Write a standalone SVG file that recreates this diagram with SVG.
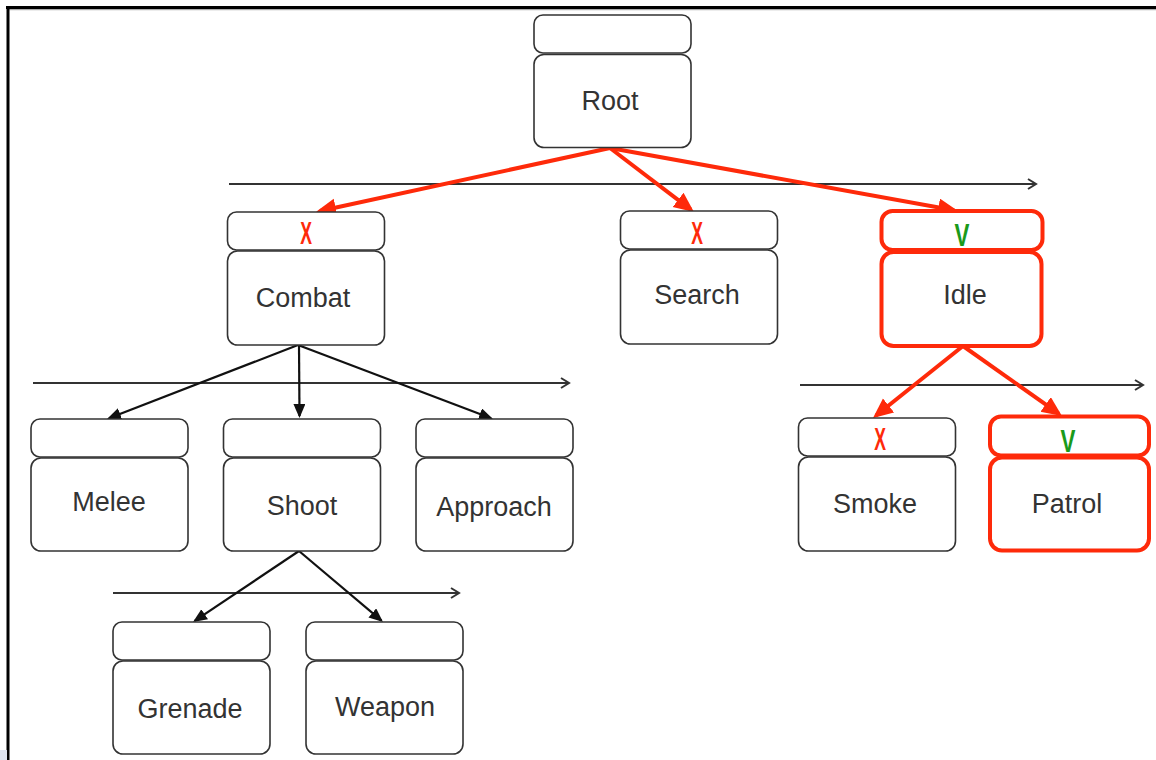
<svg xmlns="http://www.w3.org/2000/svg" width="1156" height="760" viewBox="0 0 1156 760">
<style>
.hd{fill:#fff;stroke:#333;stroke-width:1.6}
.bd{fill:#fff;stroke:#333;stroke-width:1.6}
.act{stroke:#fe2a0a;stroke-width:4}
.lbl{font-family:"Liberation Sans",Arial,sans-serif;font-size:27px;fill:#333;text-anchor:middle}
.mk{font-family:"Liberation Sans",Arial,sans-serif;font-size:32px;font-weight:bold;text-anchor:middle}
.tl{stroke:#333;stroke-width:2;fill:none}
.red{stroke:#fe2a0a;stroke-width:4;fill:none}
.blk{stroke:#111;stroke-width:2.2;fill:none}
</style>
<defs>
<marker id="ar" markerUnits="userSpaceOnUse" markerWidth="22" markerHeight="20" refX="16" refY="9" orient="auto"><path d="M0,0 L20,9 L0,18 Z" fill="#fe2a0a"/></marker>
<marker id="ab" markerUnits="userSpaceOnUse" markerWidth="16" markerHeight="14" refX="12" refY="6" orient="auto"><path d="M0,0 L14,6 L0,12 Z" fill="#111"/></marker>
<marker id="ao" markerUnits="userSpaceOnUse" markerWidth="12" markerHeight="14" refX="9" refY="6" orient="auto"><path d="M1,1 L9,6 L1,11" fill="none" stroke="#333" stroke-width="2"/></marker>
</defs>
<rect width="1156" height="760" fill="#fff"/>
<g id="frame">
<line x1="6" y1="7.5" x2="1156" y2="7.5" stroke="#000" stroke-width="3"/>
<line x1="8" y1="9.7" x2="1156" y2="9.7" stroke="#999" stroke-width="1"/>
<line x1="8" y1="6" x2="8" y2="760" stroke="#000" stroke-width="3"/>
<rect x="0" y="750" width="7" height="10" fill="#dde3ee"/>
</g>
<g id="connectors">
<line class="tl" x1="229" y1="184" x2="1036" y2="184" marker-end="url(#ao)"/>
<line class="tl" x1="33" y1="383" x2="569" y2="383" marker-end="url(#ao)"/>
<line class="tl" x1="800" y1="385" x2="1143" y2="385" marker-end="url(#ao)"/>
<line class="tl" x1="113" y1="593" x2="459" y2="593" marker-end="url(#ao)"/>
<line class="red" x1="610" y1="148" x2="320" y2="211" marker-end="url(#ar)"/>
<line class="red" x1="610" y1="148" x2="690.8" y2="209.6" marker-end="url(#ar)"/>
<line class="red" x1="610" y1="148" x2="954.1" y2="210.3" marker-end="url(#ar)"/>
<line class="red" x1="963" y1="346" x2="876.1" y2="415.5" marker-end="url(#ar)"/>
<line class="red" x1="963" y1="346" x2="1058.7" y2="413.7" marker-end="url(#ar)"/>
<line class="blk" x1="298" y1="345" x2="108.9" y2="418.3" marker-end="url(#ab)"/>
<line class="blk" x1="299" y1="345" x2="299.5" y2="416" marker-end="url(#ab)"/>
<line class="blk" x1="298" y1="345" x2="491.1" y2="418.3" marker-end="url(#ab)"/>
<line class="blk" x1="299" y1="551" x2="194.7" y2="620.9" marker-end="url(#ab)"/>
<line class="blk" x1="299" y1="551" x2="381.5" y2="620.7" marker-end="url(#ab)"/>
</g>
<g id="root">
<rect class="hd" x="534" y="15" width="157" height="38" rx="9"/>
<rect class="bd" x="534" y="54.5" width="157" height="93" rx="10"/>
<text class="lbl" x="610" y="110">Root</text>
</g>
<g id="combat">
<rect class="hd" x="227.5" y="212" width="157" height="38" rx="9"/>
<rect class="bd" x="227.5" y="251" width="157" height="94" rx="10"/>
<text class="lbl" x="303" y="307">Combat</text>
<text class="mk" transform="translate(306,244) scale(0.55,1)" fill="#fe2a0a">X</text>
</g>
<g id="search">
<rect class="hd" x="620.5" y="211" width="157" height="38" rx="9"/>
<rect class="bd" x="620.5" y="250" width="157" height="94" rx="10"/>
<text class="lbl" x="697" y="304">Search</text>
<text class="mk" transform="translate(697,244) scale(0.55,1)" fill="#fe2a0a">X</text>
</g>
<g id="idle">
<rect class="hd act" x="881.5" y="211" width="161" height="39" rx="11"/>
<rect class="bd act" x="881.5" y="252" width="160" height="94" rx="12"/>
<text class="lbl" x="965" y="304">Idle</text>
<text class="mk" transform="translate(962,246) scale(0.7,1)" fill="#1a9a1a">V</text>
</g>
<g id="melee">
<rect class="hd" x="31" y="419" width="157" height="38" rx="9"/>
<rect class="bd" x="31" y="458" width="157" height="93" rx="10"/>
<text class="lbl" x="109" y="511">Melee</text>
</g>
<g id="shoot">
<rect class="hd" x="223.5" y="419" width="157" height="38" rx="9"/>
<rect class="bd" x="223.5" y="458" width="157" height="93" rx="10"/>
<text class="lbl" x="302" y="515">Shoot</text>
</g>
<g id="approach">
<rect class="hd" x="416" y="419" width="157" height="38" rx="9"/>
<rect class="bd" x="416" y="458" width="157" height="93" rx="10"/>
<text class="lbl" x="494" y="516">Approach</text>
</g>
<g id="smoke">
<rect class="hd" x="798.5" y="418" width="157" height="38" rx="9"/>
<rect class="bd" x="798.5" y="457" width="157" height="94" rx="10"/>
<text class="lbl" x="875" y="513">Smoke</text>
<text class="mk" transform="translate(880,450) scale(0.55,1)" fill="#fe2a0a">X</text>
</g>
<g id="patrol">
<rect class="hd act" x="990" y="416.5" width="159" height="39" rx="11"/>
<rect class="bd act" x="990" y="457.5" width="159" height="93" rx="12"/>
<text class="lbl" x="1067" y="513">Patrol</text>
<text class="mk" transform="translate(1068,452) scale(0.7,1)" fill="#1a9a1a">V</text>
</g>
<g id="grenade">
<rect class="hd" x="113" y="622" width="157" height="38" rx="9"/>
<rect class="bd" x="113" y="661" width="157" height="93" rx="10"/>
<text class="lbl" x="190" y="718">Grenade</text>
</g>
<g id="weapon">
<rect class="hd" x="306" y="622" width="157" height="38" rx="9"/>
<rect class="bd" x="306" y="661" width="157" height="93" rx="10"/>
<text class="lbl" x="385" y="716">Weapon</text>
</g>
</svg>
